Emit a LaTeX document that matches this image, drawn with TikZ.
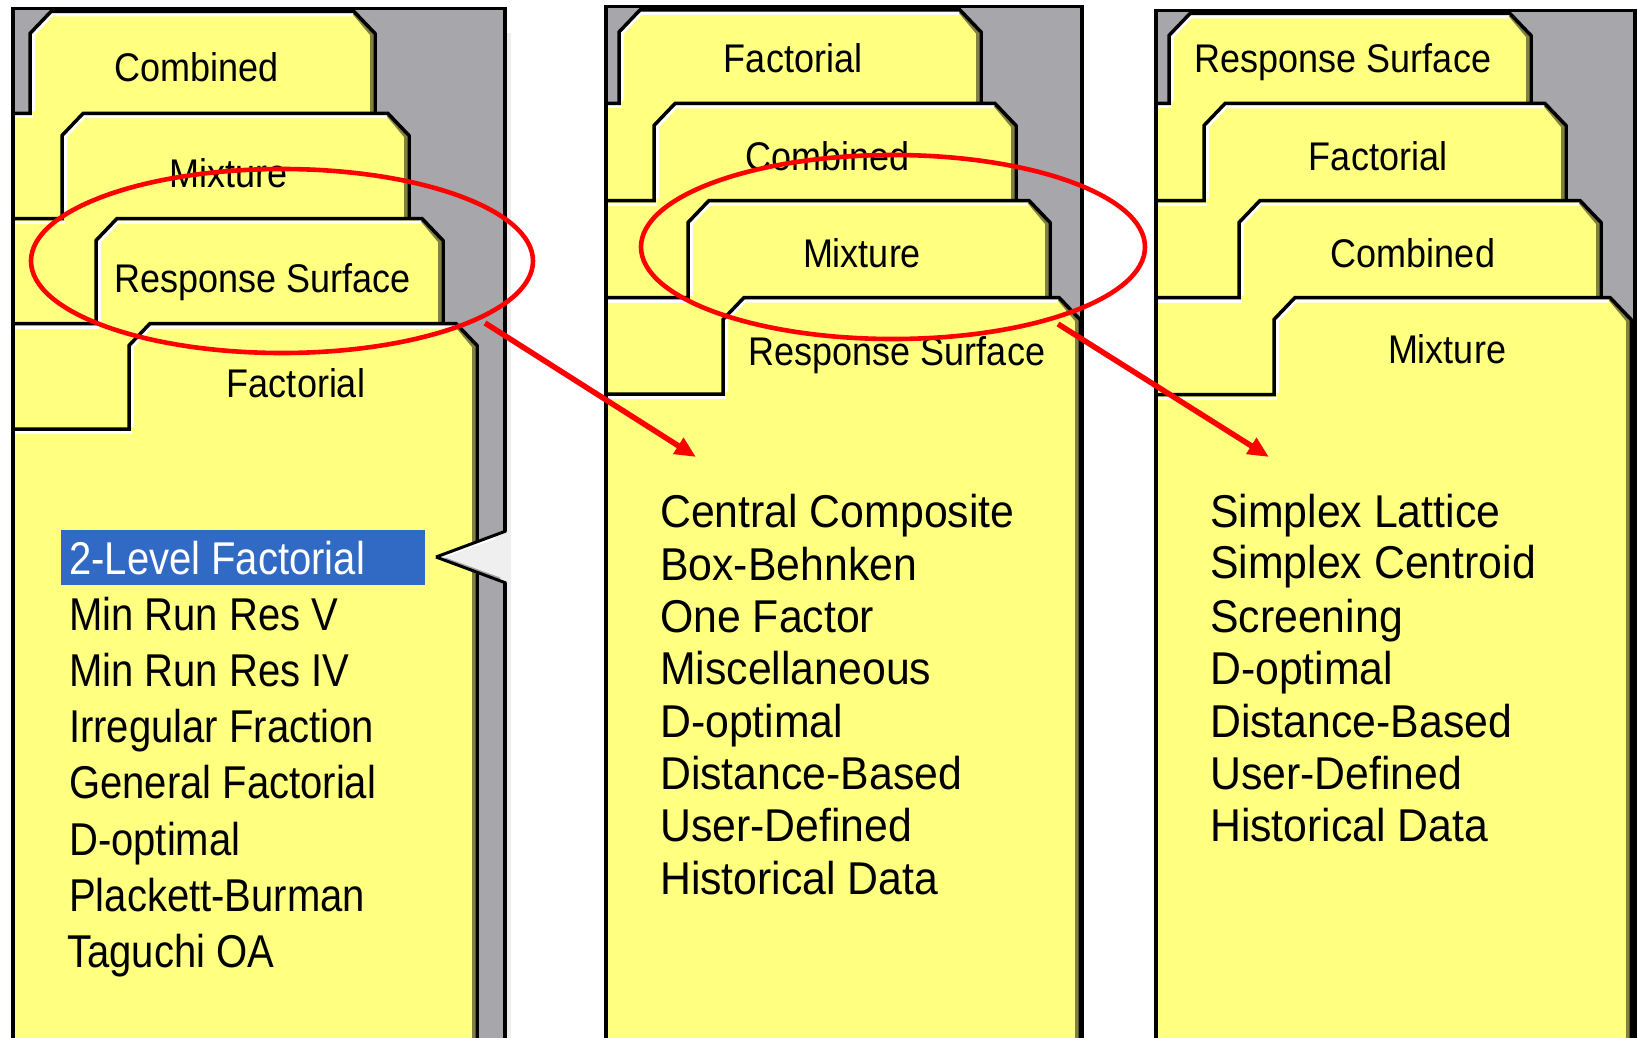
\documentclass[tikz,border=0pt]{standalone}
\usepackage{fontspec}
\usetikzlibrary{arrows.meta}

\newfontfamily\tabfont{Liberation Sans}[FakeStretch=0.9]
\newfontfamily\listfontA{Liberation Sans}[FakeStretch=0.87]
\newfontfamily\listfontB{Liberation Sans}[FakeStretch=0.93]

\definecolor{cardyellow}{HTML}{FFFF80}
\definecolor{panelgray}{HTML}{A7A6AB}
\definecolor{cardshadow}{HTML}{808040}
\definecolor{selblue}{HTML}{316AC5}
\definecolor{paleshade}{HTML}{EFEFEF}
\definecolor{markred}{HTML}{FF0000}

\tikzset{
  tabfill/.style={fill=cardyellow},
  tabedge/.style={draw=black, line width=3.5pt, line join=miter},
  tabhi/.style={draw=white, line width=3pt},
  tabshadow/.style={draw=cardshadow, line width=3pt},
  frameedge/.style={draw=black, line width=3.5pt},
  tablabel/.style={font={\tabfont\fontsize{40}{48}\selectfont}, anchor=base, inner sep=0pt},
  itemA/.style={font={\listfontA\fontsize{46}{55}\selectfont}, anchor=base west, inner sep=0pt},
  itemB/.style={font={\listfontB\fontsize{46}{55}\selectfont}, anchor=base west, inner sep=0pt},
  ring/.style={draw=markred, line width=4.6pt},
  pointsto/.style={draw=markred, line width=5.5pt, -{Triangle[length=21pt,width=18pt]}},
}

% one tab card: #1 frame left, #2 tab left, #3 tab top, #4 tab right, #5 row bottom
\newcommand\tabcard[5]{%
  \fill[tabfill] (#1,1050) -- (#1,#5) -- (#2,#5) -- (#2,{#3+22}) -- ({#2+21},#3)
     -- ({#4-21},#3) -- (#4,{#3+22}) -- (#4,1050) -- cycle;
  \draw[tabhi] ({#1+2},{#5+3.5}) -- ({#2+3},{#5+3.5});
  \draw[tabhi] ({#2+3.5},{#5-2}) -- ({#2+3.5},{#3+23}) -- ({#2+22},{#3+3.5}) -- ({#4-22},{#3+3.5});
  \draw[tabshadow] ({#4-21},{#3+2}) -- ({#4-3.5},{#3+23}) -- ({#4-3.5},1050);
  \draw[tabedge] (#1,#5) -- (#2,#5) -- (#2,{#3+22}) -- ({#2+21},#3)
     -- ({#4-21},#3) -- (#4,{#3+22}) -- (#4,1050);
}

\begin{document}
\begin{tikzpicture}[x=1pt, y=-1pt]
\useasboundingbox (0,0) rectangle (1638,1038);
\clip (0,0) rectangle (1638,1038);

% ---------- first dialog: Factorial page ----------
\fill[paleshade] (507,33) rectangle (511,1050);
\fill[panelgray] (13,8.5) rectangle (505,1050);
\tabcard{13}{30}{11.5}{375}{113.5}
\tabcard{13}{62}{113.5}{409}{218.5}
\tabcard{13}{96}{218.5}{443}{323.5}
\tabcard{13}{129}{323.5}{477}{429}
\draw[frameedge] (13,1050) -- (13,8.5) -- (505,8.5) -- (505,1050);

\node[tablabel] (p1t1) at (197,82) {Combined};
\node[tablabel] (p1t2) at (229,187) {Mixture};
\node[tablabel] (p1t3) at (263,292) {Response Surface};
\node[tablabel] (p1t4) at (296,397) {Factorial};

\fill[selblue] (61,530) rectangle (425,585);
\node[itemA, text=white] (p1i1) at (69,574) {2-Level Factorial};
\node[itemA] (p1i2) at (69,630) {Min Run Res V};
\node[itemA] (p1i3) at (69,686) {Min Run Res IV};
\node[itemA] (p1i4) at (69,742) {Irregular Fraction};
\node[itemA] (p1i5) at (69,798) {General Factorial};
\node[itemA] (p1i6) at (69,855) {D-optimal};
\node[itemA] (p1i7) at (69,911) {Plackett-Burman};
\node[itemA] (p1i8) at (67,967) {Taguchi OA};

% selection pointer on the right edge
\fill[paleshade] (436,557) -- (511,530) -- (511,584) -- cycle;
\draw[white, line width=3pt] (445,555.5) -- (495,537.5);
\draw[black!35, line width=3pt] (445,559) -- (500,579);
\draw[black, line width=3pt] (436,557) -- (506,531);
\draw[black, line width=3pt] (436,557) -- (506,583);

% ---------- second dialog: Response Surface page ----------
\fill[panelgray] (606,6.5) rectangle (1082,1050);
\tabcard{606}{619}{10}{981}{103.5}
\tabcard{606}{654}{103.5}{1016}{200.5}
\tabcard{606}{688}{200.5}{1050}{297.5}
\tabcard{606}{723}{297.5}{1080}{394}
\draw[frameedge] (606,1050) -- (606,6.5) -- (1082,6.5) -- (1082,1050);

\node[tablabel] (p2t1) at (793,73) {Factorial};
\node[tablabel] (p2t2) at (828,171) {Combined};
\node[tablabel] (p2t3) at (862,267) {Mixture};
\node[tablabel] (p2t4) at (897,365) {Response Surface};

\node[itemB] (p2i1) at (660,527) {Central Composite};
\node[itemB] (p2i2) at (660,580) {Box-Behnken};
\node[itemB] (p2i3) at (660,632) {One Factor};
\node[itemB] (p2i4) at (660,684) {Miscellaneous};
\node[itemB] (p2i5) at (660,737) {D-optimal};
\node[itemB] (p2i6) at (660,789) {Distance-Based};
\node[itemB] (p2i7) at (660,841) {User-Defined};
\node[itemB] (p2i8) at (660,894) {Historical Data};

% ---------- third dialog: Mixture page ----------
\fill[panelgray] (1156,10.5) rectangle (1635,1050);
\tabcard{1156}{1169}{13.5}{1531}{103.5}
\tabcard{1156}{1204}{103.5}{1566}{200.5}
\tabcard{1156}{1239}{200.5}{1601}{297.5}
\tabcard{1156}{1274}{297.5}{1631}{394.5}
\draw[frameedge] (1156,1050) -- (1156,10.5) -- (1635,10.5) -- (1635,1050);

\node[tablabel] (p3t1) at (1343,73) {Response Surface};
\node[tablabel] (p3t2) at (1378,170) {Factorial};
\node[tablabel] (p3t3) at (1413,267) {Combined};
\node[tablabel] (p3t4) at (1447,363) {Mixture};

\node[itemB] (p3i1) at (1210,527) {Simplex Lattice};
\node[itemB] (p3i2) at (1210,578) {Simplex Centroid};
\node[itemB] (p3i3) at (1210,632) {Screening};
\node[itemB] (p3i4) at (1210,684) {D-optimal};
\node[itemB] (p3i5) at (1210,737) {Distance-Based};
\node[itemB] (p3i6) at (1210,789) {User-Defined};
\node[itemB] (p3i7) at (1210,841) {Historical Data};

% ---------- red call-outs ----------
\draw[ring] (282,261) ellipse [x radius=251, y radius=92];
\draw[ring] (893,247) ellipse [x radius=252, y radius=92];

\coordinate (a1s) at (485,323);
\coordinate (a1e) at (696,457);
\coordinate (a2s) at (1058,324);
\coordinate (a2e) at (1269,457);
\draw[pointsto] (a1s) -- (a1e);
\draw[pointsto] (a2s) -- (a2e);
\end{tikzpicture}
\end{document}
